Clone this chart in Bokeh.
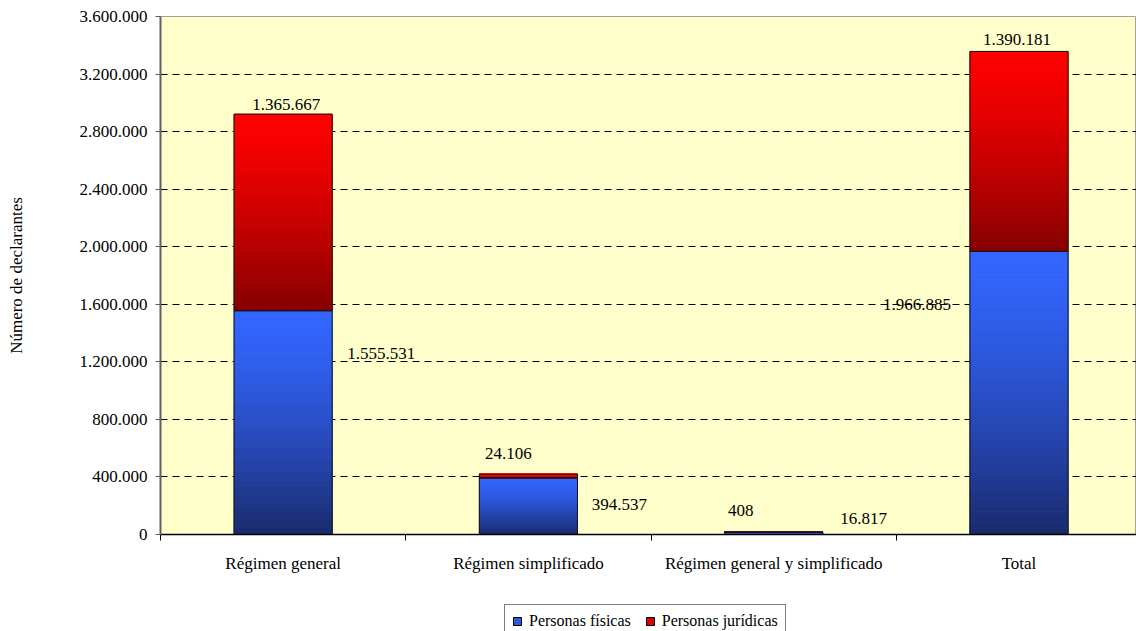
from bokeh.plotting import figure
from bokeh.layouts import column
from bokeh.models import ColumnDataSource, FixedTicker, Legend, LegendItem, Range1d
from bokeh.core.properties import value
from bokeh.embed import file_html
from bokeh.resources import INLINE

# ---------------- data ----------------
categories = ["Régimen general", "Régimen simplificado",
              "Régimen general y simplificado", "Total"]
fisicas = [1555531, 394537, 16817, 1966885]      # Personas físicas
juridicas = [1365667, 24106, 408, 1390181]       # Personas jurídicas
y_ticks = [0, 400000, 800000, 1200000, 1600000, 2000000,
           2400000, 2800000, 3200000, 3600000]

# label placement offsets in screen px (style, not data)
fis_label_offsets = [(98, 43), (91, 27), (90, -14), (-102, 53)]
jur_label_offsets = [(3, -10), (-20, -21), (-33, -22), (-2, -12)]


def fmt(v):
    return f"{v:,}".replace(",", ".")


FONT = "Liberation Serif"
BLUE_TOP, BLUE_BOT = (0x33, 0x66, 0xFF), (0x1A, 0x2A, 0x6C)
RED_TOP, RED_BOT = (0xFF, 0x00, 0x00), (0x85, 0x00, 0x00)
BLUE_MID, RED_MID = "#2E59DD", "#D80000"
BAR_W = 0.4
centers = [i + 0.5 for i in range(len(categories))]

W = 1136
MAIN_H = 580
LEG_H = 51

p = figure(width=W, height=MAIN_H,
           x_range=Range1d(0, 3.979), y_range=Range1d(0, 3600000),
           output_backend="svg", toolbar_location=None,
           min_border_left=160, min_border_right=0,
           min_border_top=16, min_border_bottom=46,
           background_fill_color="#FFFFCC", border_fill_color="white",
           outline_line_color="#A0A0A0", outline_line_width=1)

# grid
p.xgrid.grid_line_color = None
p.ygrid.ticker = FixedTicker(ticks=y_ticks)
p.ygrid.grid_line_color = "black"
p.ygrid.grid_line_dash = "7 5"
p.ygrid.grid_line_width = 1

jur_bottom = list(fisicas)
jur_top = [f + j for f, j in zip(fisicas, juridicas)]


def strips(bottoms, tops, c_top, c_bot, n=100, power=1.4):
    xs, b_out, t_out, cols = [], [], [], []
    for c, b, t in zip(centers, bottoms, tops):
        for k in range(n):
            y0 = b + (t - b) * k / n
            y1 = b + (t - b) * (k + 1) / n
            f = 1 - (k + 0.5) / n
            g = f ** power
            rgb = tuple(round(a + (z - a) * g) for a, z in zip(c_top, c_bot))
            xs.append(c)
            b_out.append(y0)
            t_out.append(y1)
            cols.append("#%02x%02x%02x" % rgb)
    return ColumnDataSource(dict(x=xs, bottom=b_out, top=t_out, color=cols))


sb = strips([0] * len(fisicas), fisicas, BLUE_TOP, BLUE_BOT)
sr = strips(jur_bottom, jur_top, RED_TOP, RED_BOT, power=1.3)
p.vbar(x="x", width=BAR_W, bottom="bottom", top="top", source=sb,
       fill_color="color", line_color="color", line_width=1)
p.vbar(x="x", width=BAR_W, bottom="bottom", top="top", source=sr,
       fill_color="color", line_color="color", line_width=1)

# outlines
p.vbar(x=centers + centers, width=BAR_W,
       bottom=[0] * len(fisicas) + jur_bottom, top=fisicas + jur_top,
       fill_color=None, line_color="#151515", line_width=1)

# data labels
lab_src = ColumnDataSource(dict(
    x=centers + centers,
    y=fisicas + jur_top,
    text=[fmt(v) for v in fisicas] + [fmt(v) for v in juridicas],
    xo=[o[0] for o in fis_label_offsets] + [o[0] for o in jur_label_offsets],
    yo=[o[1] for o in fis_label_offsets] + [o[1] for o in jur_label_offsets],
))
p.text(x="x", y="y", text="text", x_offset="xo", y_offset="yo", source=lab_src,
       text_font=value(FONT), text_font_size="17px", text_color="black",
       text_align="center", text_baseline="middle")

# x axis
xa = p.xaxis[0]
xa.ticker = FixedTicker(ticks=centers, minor_ticks=[0, 1, 2, 3, 4])
xa.major_label_overrides = {c: cat for c, cat in zip(centers, categories)}
xa.major_tick_line_color = None
xa.minor_tick_line_color = "black"
xa.minor_tick_out = 6
xa.minor_tick_in = 0
xa.axis_line_color = "black"
xa.axis_line_width = 1.5
xa.major_label_standoff = 13
xa.major_label_text_font = FONT
xa.major_label_text_font_size = "17px"
xa.major_label_text_color = "black"

# y axis
ya = p.yaxis[0]
ya.ticker = FixedTicker(ticks=y_ticks)
ya.major_label_overrides = {t: fmt(t) for t in y_ticks}
ya.major_tick_out = 5
ya.major_tick_in = 0
ya.major_tick_line_color = "#606060"
ya.minor_tick_line_color = None
ya.axis_line_color = "#606060"
ya.axis_line_width = 2
ya.major_label_standoff = 8
ya.major_label_text_font = FONT
ya.major_label_text_font_size = "17px"
ya.major_label_text_color = "black"
ya.axis_label = "Número de declarantes"
ya.axis_label_text_font = FONT
ya.axis_label_text_font_size = "17px"
ya.axis_label_text_font_style = "normal"
ya.axis_label_text_color = "black"
ya.axis_label_standoff = 51

# ---------------- legend strip below ----------------
pl = figure(width=W, height=LEG_H, x_range=Range1d(0, W), y_range=Range1d(0, LEG_H),
            x_axis_type=None, y_axis_type=None,
            output_backend="svg", toolbar_location=None,
            min_border_left=0, min_border_right=0, min_border_top=0, min_border_bottom=0,
            background_fill_color="white", border_fill_color="white",
            outline_line_color=None)
pl.grid.visible = False
rb = pl.vbar(x=centers, width=BAR_W, bottom=0, top=fisicas, visible=False,
             fill_color=BLUE_MID, line_color="black", line_width=1)
rr = pl.vbar(x=centers, width=BAR_W, bottom=jur_bottom, top=jur_top, visible=False,
             fill_color=RED_MID, line_color="black", line_width=1)

legend = Legend(items=[LegendItem(label="Personas físicas", renderers=[rb]),
                       LegendItem(label="Personas jurídicas", renderers=[rr])],
                location=(344, -7), orientation="horizontal",
                padding=7, spacing=14, label_standoff=7,
                glyph_width=10, glyph_height=10, margin=0,
                border_line_color="black", border_line_width=1,
                background_fill_color="white", background_fill_alpha=1,
                inactive_fill_alpha=0,
                label_text_font=FONT, label_text_font_size="16px",
                label_text_color="black")
pl.add_layout(legend)

layout = column(p, pl, spacing=0)
open("out.html", "w").write(file_html(layout, INLINE))
